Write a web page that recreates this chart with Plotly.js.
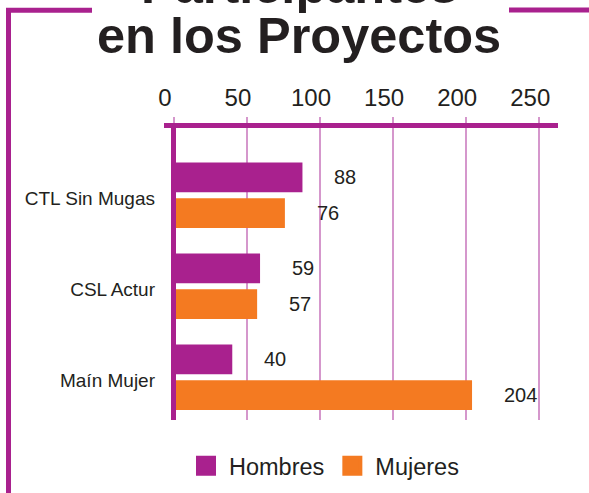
<!DOCTYPE html>
<html>
<head>
<meta charset="utf-8">
<script src="https://cdn.plot.ly/plotly-3.0.1.min.js"></script>
<style>html,body{margin:0;padding:0;background:#fff;}#chart{width:589px;height:493px;}</style>
</head>
<body>
<div id="chart"></div>
<script>
// ---- data ----
var categories = ['CTL Sin Mugas', 'CSL Actur', 'Maín Mujer'];
var hombres = [88, 59, 40];
var mujeres = [76, 57, 204];
var tickValues = [0, 50, 100, 150, 200, 250];
var tickLabels = ['0', '50', '100', '150', '200', '250'];
var titleLine1 = 'Participantes';
var titleLine2 = 'en los Proyectos';
var seriesNames = ['Hombres', 'Mujeres'];

// ---- style ----
var W = 589, H = 493;
var M = {l: 164, r: 31, t: 128, b: 20, autoexpand: false};
var PLOT_BOTTOM = 420;   // pixel row where the plot area ends
var PURPLE = '#a9218e', ORANGE = '#f47a21', TEXT = '#231f20';
var GRID_LIGHT = '#d597cc', GRID_DARK = '#b02a92';
var FONT = 'Liberation Sans, Arial, Helvetica, sans-serif';
function px2x(px) { return (px - M.l) / (W - M.l - M.r); }
function px2y(py) { return (H - M.b - py) / (H - M.t - M.b); }
var yDomainBottom = px2y(PLOT_BOTTOM);

var traces = [
  {type: 'bar', orientation: 'h', name: seriesNames[0], y: categories, x: hombres,
   marker: {color: PURPLE}, showlegend: false, hoverinfo: 'x'},
  {type: 'bar', orientation: 'h', name: seriesNames[1], y: categories, x: mujeres,
   marker: {color: ORANGE}, showlegend: false, hoverinfo: 'x'},
  // legend entries (larger square swatches than the default bar swatch)
  {type: 'scatter', mode: 'markers', name: seriesNames[0], x: [null], y: [null],
   marker: {symbol: 'square', size: 16, color: PURPLE, line: {color: PURPLE, width: 4}}},
  {type: 'scatter', mode: 'markers', name: seriesNames[1], x: [null], y: [null],
   marker: {symbol: 'square', size: 16, color: ORANGE, line: {color: ORANGE, width: 4}}}
];

var annotations = [];
hombres.forEach(function (v, i) {
  annotations.push({xref: 'x', yref: 'y', x: v, y: categories[i], text: String(v), showarrow: false,
    xanchor: 'left', xshift: 30, yshift: 18, font: {family: FONT, size: 20, color: TEXT}});
});
mujeres.forEach(function (v, i) {
  annotations.push({xref: 'x', yref: 'y', x: v, y: categories[i], text: String(v), showarrow: false,
    xanchor: 'left', xshift: 30, yshift: -18, font: {family: FONT, size: 20, color: TEXT}});
});
annotations.push({xref: 'paper', yref: 'paper', x: px2x(299), y: px2y(3.5 - 17.6), yanchor: 'middle',
  xanchor: 'center', text: '<b>' + titleLine1 + '</b>', showarrow: false,
  font: {family: FONT, size: 50.5, color: TEXT}});
annotations.push({xref: 'paper', yref: 'paper', x: px2x(299), y: px2y(53 - 17.6), yanchor: 'middle',
  xanchor: 'center', text: '<b>' + titleLine2 + '</b>', showarrow: false,
  font: {family: FONT, size: 50.5, color: TEXT}});

var shapes = [
  {type: 'line', xref: 'paper', yref: 'paper', x0: px2x(8.5), x1: px2x(8.5), y0: px2y(8), y1: px2y(500),
   line: {color: PURPLE, width: 5}},
  {type: 'line', xref: 'paper', yref: 'paper', x0: px2x(6), x1: px2x(92), y0: px2y(10.3), y1: px2y(10.3),
   line: {color: PURPLE, width: 5}},
  {type: 'line', xref: 'paper', yref: 'paper', x0: px2x(509), x1: px2x(600), y0: px2y(10), y1: px2y(10),
   line: {color: PURPLE, width: 5}}
];

var layout = {
  width: W, height: H, margin: M,
  paper_bgcolor: '#fff', plot_bgcolor: '#fff',
  font: {family: FONT, color: TEXT},
  barmode: 'group', bargap: 0.214, bargroupgap: 0.167,
  showlegend: true,
  legend: {orientation: 'h', x: px2x(183), y: px2y(466), xanchor: 'left', yanchor: 'middle',
    itemwidth: 36, font: {family: FONT, size: 23.5, color: TEXT}, bgcolor: 'rgba(0,0,0,0)',
    itemclick: false},
  xaxis: {
    range: [-6.7, 262.8], side: 'top', tickmode: 'array', tickvals: tickValues, ticktext: tickLabels,
    tickfont: {family: FONT, size: 24, color: TEXT}, ticks: 'outside', ticklen: 6, tickwidth: 2,
    tickcolor: GRID_LIGHT, ticklabelstandoff: 1, ticklabelshift: -9,
    showline: true, linecolor: PURPLE, linewidth: 5,
    showgrid: true, gridcolor: GRID_LIGHT, gridwidth: 2,
    zeroline: true, zerolinecolor: PURPLE, zerolinewidth: 5, zerolinelayer: 'above traces',
    fixedrange: true
  },
  xaxis2: {
    overlaying: 'x', matches: 'x', side: 'top', anchor: 'y', tickmode: 'array', tickvals: [0],
    ticks: 'outside', ticklen: 8, tickwidth: 5, tickcolor: PURPLE, showticklabels: false,
    showgrid: false, zeroline: false, showline: false
  },
  xaxis3: {
    overlaying: 'x', matches: 'x', side: 'top', anchor: 'y', tickmode: 'array', tickvals: [150],
    ticks: 'outside', ticklen: 6, tickwidth: 1, tickcolor: GRID_DARK, showticklabels: false,
    showgrid: true, gridcolor: GRID_DARK, gridwidth: 1, zeroline: false, showline: false
  },
  yaxis: {
    type: 'category', categoryorder: 'array', categoryarray: categories, domain: [yDomainBottom, 1],
    range: [2.469, -0.740], ticks: '', showgrid: false, zeroline: false, showline: false,
    tickfont: {family: FONT, size: 19, color: TEXT}, ticklabelstandoff: 8, ticklabelshift: -3,
    fixedrange: true
  },
  annotations: annotations,
  shapes: shapes
};

Plotly.newPlot('chart', traces, layout, {displayModeBar: false, staticPlot: true});
</script>
</body>
</html>
